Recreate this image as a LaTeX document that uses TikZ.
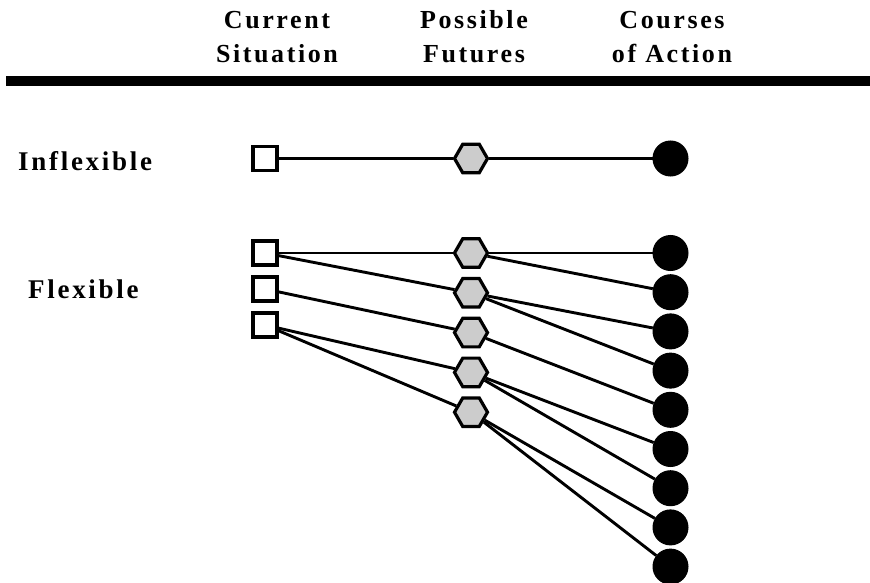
\documentclass[tikz,border=0pt]{standalone}
\usepackage{fontspec}
\setmainfont{Liberation Serif}
\newfontfamily\spacedfont[LetterSpace=10]{Liberation Serif Bold}
\usetikzlibrary{positioning,shapes.geometric}
\begin{document}
\begin{tikzpicture}[x=1pt, y=-1pt, on grid]
	\tikzstyle{situation} = [
		draw, line width=3.2pt, fill=white,
		rectangle, minimum size=24pt, inner sep=0pt,
		node distance=36pt];
	\tikzstyle{future} = [
		draw, line width=3.2pt, fill=black!20,
		regular polygon, regular polygon sides=6,
		minimum size=33pt, inner sep=0pt,
		node distance=39.8pt];
	\tikzstyle{action} = [
		draw, line width=1pt, fill=black,
		circle, minimum size=35pt, inner sep=0pt,
		node distance=39.2pt];

	\tikzstyle{heading} = [
		anchor=base, align=center, inner sep=0pt,
		font={\spacedfont\fontsize{26}{34}\selectfont}];
	\tikzstyle{rowlabel} = [
		anchor=base west, inner sep=0pt,
		font={\spacedfont\fontsize{27}{30}\selectfont}];

	\tikzstyle{link} = [line width=2.9pt];

	\useasboundingbox (0,0) rectangle (870,583);

	% column headings and rule
	\node[heading] (hsit) at (277,63) {Current\\Situation};
	\node[heading] (hfut) at (474,63) {Possible\\Futures};
	\node[heading] (hact) at (672,63) {Courses\\of Action};
	\fill (6,76) rectangle (870,86);

	% row labels
	\node[rowlabel] (linfl) at (18,170) {Inflexible};
	\node[rowlabel] (lflex) at (28,298) {Flexible};

	% inflexible row
	\node[situation] (si) at (265,158.5) {};
	\node[future, right=206pt of si] (fi) {};
	\node[action, right=199.5pt of fi] (ai) {};

	% flexible rows
	\node[situation] (s1) at (265,253) {};
	\node[situation, below=of s1] (s2) {};
	\node[situation, below=of s2] (s3) {};

	\node[future, right=206pt of s1] (f1) {};
	\node[future, below=of f1] (f2) {};
	\node[future, below=of f2] (f3) {};
	\node[future, below=of f3] (f4) {};
	\node[future, below=of f4] (f5) {};

	\node[action, right=199.5pt of f1] (a1) {};
	\node[action, below=of a1] (a2) {};
	\node[action, below=of a2] (a3) {};
	\node[action, below=of a3] (a4) {};
	\node[action, below=of a4] (a5) {};
	\node[action, below=of a5] (a6) {};
	\node[action, below=of a6] (a7) {};
	\node[action, below=of a7] (a8) {};
	\node[action, below=of a8] (a9) {};

	\draw[link] (si) -- (fi);
	\draw[link] (fi) -- (ai);

	\draw[link] (s1) -- (f1);
	\draw[link] (s1) -- (f2);
	\draw[link] (s2) -- (f3);
	\draw[link] (s3) -- (f4);
	\draw[link] (s3) -- (f5);

	\draw[link] (f1) -- (a1);
	\draw[link] (f1) -- (a2);
	\draw[link] (f2) -- (a3);
	\draw[link] (f2) -- (a4);
	\draw[link] (f3) -- (a5);
	\draw[link] (f4) -- (a6);
	\draw[link] (f4) -- (a7);
	\draw[link] (f5) -- (a8);
	\draw[link] (f5) -- (a9);
\end{tikzpicture}
\end{document}
